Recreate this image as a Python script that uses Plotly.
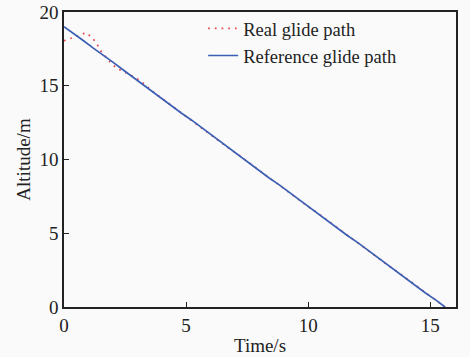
import plotly.graph_objects as go

# Reference glide path (time in s, altitude in m)
ref_time = [0.0, 0.4, 0.8, 1.2, 1.6, 2.0, 2.4, 2.8, 3.2, 3.6, 4.0, 4.4, 4.8, 5.2,
            5.6, 6.0, 6.4, 6.8, 7.2, 7.6, 8.0, 8.4, 8.8, 9.2, 9.6, 10.0, 10.4,
            10.8, 11.2, 11.6, 12.0, 12.4, 12.8, 13.2, 13.6, 14.0, 14.4, 14.8,
            15.2, 15.6]
ref_alt = [19.0, 18.55, 18.05, 17.55, 17.1, 16.6, 16.1, 15.6, 15.1, 14.65, 14.15,
           13.65, 13.15, 12.7, 12.2, 11.7, 11.2, 10.7, 10.25, 9.75, 9.25, 8.75,
           8.3, 7.8, 7.3, 6.8, 6.35, 5.85, 5.35, 4.85, 4.4, 3.9, 3.4, 2.9, 2.45,
           1.95, 1.45, 0.95, 0.5, 0.0]

# Real glide path
real_time = [0.0, 0.3, 0.6, 0.9, 1.15, 1.35, 1.5, 1.72, 1.93, 2.16, 2.45, 2.75,
             3.0, 3.25, 3.6, 4.0, 4.4, 4.8, 5.2, 5.6, 6.0, 6.4, 6.8, 7.2, 7.6,
             8.0, 8.4, 8.8, 9.2, 9.6, 10.0, 10.4, 10.8, 11.2, 11.6, 12.0, 12.4,
             12.8, 13.2, 13.6, 14.0, 14.4, 14.8, 15.2, 15.6]
real_alt = [18.05, 18.2, 18.4, 18.6, 18.27, 17.83, 17.38, 16.93, 16.52, 16.18,
            15.95, 15.73, 15.48, 15.17, 14.65, 14.15, 13.65, 13.15, 12.7, 12.2,
            11.7, 11.2, 10.7, 10.25, 9.75, 9.25, 8.75, 8.3, 7.8, 7.3, 6.8, 6.35,
            5.85, 5.35, 4.85, 4.4, 3.9, 3.4, 2.9, 2.45, 1.95, 1.45, 0.95, 0.5, 0.0]

x_ticks = [0, 5, 10, 15]
y_ticks = [0, 5, 10, 15, 20]

font = dict(family="Liberation Serif", size=19, color="#222222")
legend_font = dict(family="Liberation Serif", size=18.5, color="#222222")

fig = go.Figure()
fig.add_trace(go.Scatter(
    x=real_time, y=real_alt, mode="lines", name="Real glide path",
    line=dict(color="#e8454a", width=1.7, dash="1.7px,5px"),
))
fig.add_trace(go.Scatter(
    x=ref_time, y=ref_alt, mode="lines", name="Reference glide path",
    line=dict(color="#3b5fb5", width=1.7),
))

axis_common = dict(
    showgrid=False, zeroline=False, showline=True, linecolor="#222222",
    linewidth=1.5, mirror=True, ticks="inside", ticklen=5, tickwidth=1.2,
    tickcolor="#222222", tickfont=font, automargin=False,
)
fig.update_xaxes(range=[0, 16.05], tickvals=x_ticks,
                 title=dict(text="Time/s", font=font, standoff=4), **axis_common)
fig.update_yaxes(range=[0, 20], tickvals=y_ticks,
                 title=dict(text="Altitude/m", font=font, standoff=4), **axis_common)

fig.update_layout(
    width=470, height=357,
    margin=dict(l=64, r=14, t=12, b=50, autoexpand=False),
    paper_bgcolor="#fafafa", plot_bgcolor="#fafafa",
    font=font,
    showlegend=True,
    legend=dict(x=0.355, y=1.007, xanchor="left", yanchor="top",
                bgcolor="rgba(0,0,0,0)", font=legend_font, tracegroupgap=0),
)

fig.write_html("out.html")
